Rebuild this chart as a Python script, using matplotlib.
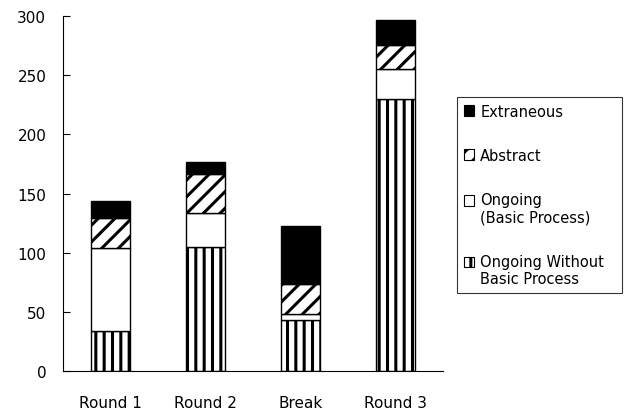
import matplotlib
matplotlib.use("Agg")
import matplotlib.pyplot as plt
import numpy as np
from matplotlib.patches import Patch, Rectangle
from matplotlib.legend_handler import HandlerPatch

plt.rcParams['font.family'] = ['DejaVu Sans']
plt.rcParams['hatch.linewidth'] = 2.2
plt.rcParams['hatch.color'] = 'black'

categories = ["Round 1", "Round 2", "Break", "Round 3"]
ongoing_without = [34, 105, 43, 230]
ongoing_basic = [70, 29, 5, 25]
abstract = [25, 33, 26, 21]
extraneous = [15, 10, 49, 21]
yticks = [0, 50, 100, 150, 200, 250, 300]

fig = plt.figure(figsize=(6.26, 4.14), dpi=100)
ax = fig.add_axes([0.1006, 0.1014, 0.607, 0.857])

x = np.arange(len(categories))
w = 0.41
b1 = np.array(ongoing_without)
b2 = b1 + np.array(ongoing_basic)
b3 = b2 + np.array(abstract)

ax.bar(x, ongoing_without, w, color='white', edgecolor='black', hatch='||', linewidth=1)
ax.bar(x, ongoing_basic, w, bottom=b1, color='white', edgecolor='black', linewidth=1)
ax.bar(x, abstract, w, bottom=b2, color='white', edgecolor='black', hatch='//', linewidth=1)
ax.bar(x, extraneous, w, bottom=b3, color='black', edgecolor='black', linewidth=1)

ax.set_xlim(-0.5, 3.5)
ax.set_ylim(0, 300)
ax.set_yticks(yticks)
ax.set_xticks(x)
ax.set_xticklabels(categories)
ax.spines['top'].set_visible(False)
ax.spines['right'].set_visible(False)
ax.tick_params(axis='y', direction='in', length=5, pad=12, labelsize=11)
ax.tick_params(axis='x', length=0, pad=17, labelsize=11)

FS = 10.5


class TopHandler(HandlerPatch):
    def __init__(self, shift=0.0, **kw):
        super().__init__(**kw)
        self.shift = shift

    def create_artists(self, legend, orig_handle, xdescent, ydescent,
                       width, height, fontsize, trans):
        side = min(width, height)
        p = Rectangle(xy=(-xdescent, -ydescent + self.shift), width=side, height=side)
        self.update_prop(p, orig_handle, legend)
        p.set_transform(trans)
        return [p]


handles = [
    Patch(facecolor='black', edgecolor='black', linewidth=0.8),
    Patch(facecolor='white', edgecolor='black', hatch='//', linewidth=0.8),
    Patch(facecolor='white', edgecolor='black', linewidth=0.8),
    Patch(facecolor='white', edgecolor='black', hatch='||', linewidth=0.8),
]
labels = ["Extraneous", "Abstract", "Ongoing\n(Basic Process)", "Ongoing Without\nBasic Process"]
hmap = {
    handles[0]: TopHandler(0.0),
    handles[1]: TopHandler(0.0),
    handles[2]: TopHandler(0.6 * FS),
    handles[3]: TopHandler(0.6 * FS),
}
leg = fig.legend(handles, labels, loc='upper left',
                 bbox_to_anchor=(0.730, 0.5, 0.2636, 0.263), mode='expand',
                 frameon=True, fancybox=False, edgecolor='black', fontsize=FS,
                 handlelength=0.75, handleheight=0.75, handletextpad=0.4,
                 labelspacing=2.0, borderpad=0.45, borderaxespad=0,
                 handler_map=hmap)
leg.get_frame().set_linewidth(0.8)

fig.savefig("out.png", dpi=100)
